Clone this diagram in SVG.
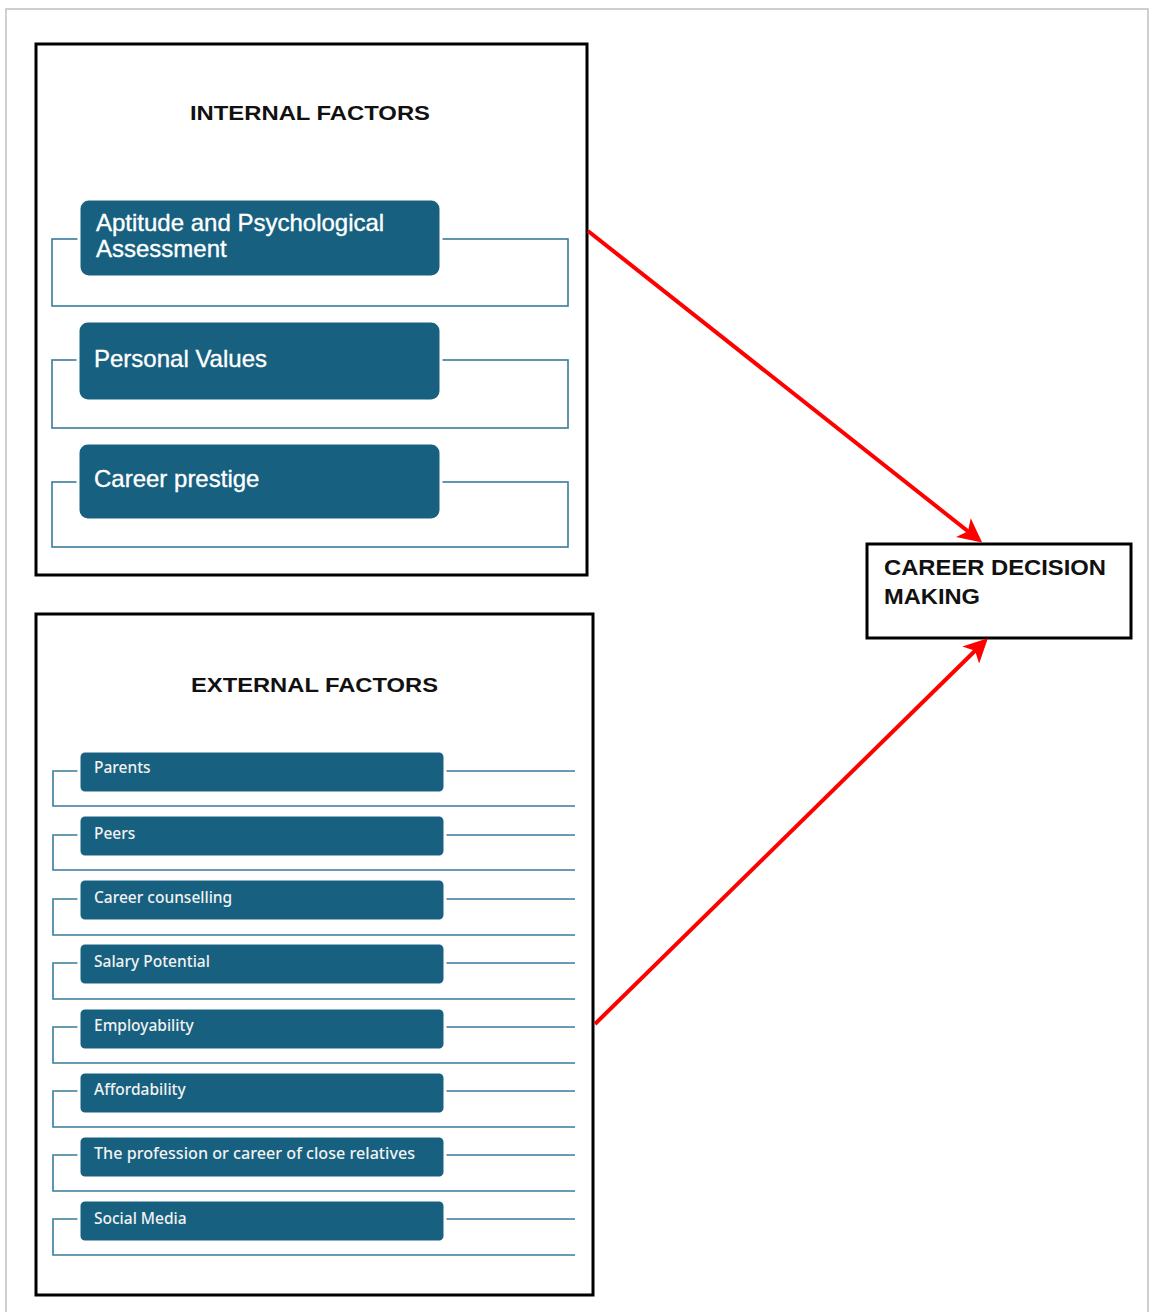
<svg xmlns="http://www.w3.org/2000/svg" width="1149" height="1312" viewBox="0 0 1149 1312">
<defs>
<style>
.frame{fill:none;stroke:#000;stroke-width:3}
.brk{fill:none;stroke:#3a7a9c;stroke-width:1.6}
.box{fill:#17607f;stroke:#fff;stroke-width:3}
.big{font-family:"Liberation Sans",Arial,sans-serif;font-size:24px;fill:#fff;stroke:#fff;stroke-width:0.35}
.sm{font-family:"Noto Sans","Open Sans",sans-serif;font-size:15.5px;font-weight:500;fill:#f2f2f2}
.hdr{font-family:"Liberation Sans",Arial,sans-serif;font-size:21px;font-weight:bold;fill:#111}
.arr{stroke:#ff0000;stroke-width:4;fill:none}
</style>
<marker id="ah" markerWidth="6" markerHeight="6" refX="5" refY="3" orient="auto" markerUnits="strokeWidth">
<path d="M0,0 L6,3 L0,6 L1.5,3 Z" fill="#ff0000"/>
</marker>
</defs>
<rect x="0" y="0" width="1149" height="1312" fill="#fff"/>
<path d="M6,1312 V9 H1148 V1312" fill="none" stroke="#c0c0c0" stroke-width="1.5"/>

<g id="internal">
<rect class="frame" x="36" y="44" width="551" height="531"/>
<text class="hdr" x="190" y="120" textLength="240" lengthAdjust="spacingAndGlyphs">INTERNAL FACTORS</text>
</g>
<g id="item-aptitude">
<rect class="brk" x="52" y="239" width="516" height="67"/>
<rect class="box" x="79" y="199" width="362" height="78" rx="10"/>
<text class="big" x="96" y="231">Aptitude and Psychological</text>
<text class="big" x="96" y="257">Assessment</text>
</g>
<g id="item-values">
<rect class="brk" x="52" y="360" width="516" height="68"/>
<rect class="box" x="78" y="321" width="363" height="80" rx="10"/>
<text class="big" x="94" y="367">Personal Values</text>
</g>
<g id="item-prestige">
<rect class="brk" x="52" y="482" width="516" height="65"/>
<rect class="box" x="78" y="443" width="363" height="77" rx="10"/>
<text class="big" x="94" y="487">Career prestige</text>
</g>

<g id="external">
<rect class="frame" x="36" y="614" width="557" height="681"/>
<text class="hdr" x="191" y="692" textLength="247" lengthAdjust="spacingAndGlyphs">EXTERNAL FACTORS</text>
</g>
<g id="ext-parents">
<path class="brk" d="M575,771 H53 V806 H575"/>
<rect class="box" x="79" y="751" width="366" height="42" rx="6"/>
<text class="sm" x="94" y="773">Parents</text>
</g>
<g id="ext-peers">
<path class="brk" d="M575,835 H53 V870 H575"/>
<rect class="box" x="79" y="815" width="366" height="42" rx="6"/>
<text class="sm" x="94" y="839">Peers</text>
</g>
<g id="ext-counselling">
<path class="brk" d="M575,899 H53 V935 H575"/>
<rect class="box" x="79" y="879" width="366" height="42" rx="6"/>
<text class="sm" x="94" y="903">Career counselling</text>
</g>
<g id="ext-salary">
<path class="brk" d="M575,963 H53 V999 H575"/>
<rect class="box" x="79" y="943" width="366" height="42" rx="6"/>
<text class="sm" x="94" y="967">Salary Potential</text>
</g>
<g id="ext-employability">
<path class="brk" d="M575,1027 H53 V1063 H575"/>
<rect class="box" x="79" y="1008" width="366" height="42" rx="6"/>
<text class="sm" x="94" y="1031">Employability</text>
</g>
<g id="ext-affordability">
<path class="brk" d="M575,1091 H53 V1127 H575"/>
<rect class="box" x="79" y="1072" width="366" height="42" rx="6"/>
<text class="sm" x="94" y="1095">Affordability</text>
</g>
<g id="ext-relatives">
<path class="brk" d="M575,1155 H53 V1191 H575"/>
<rect class="box" x="79" y="1136" width="366" height="42" rx="6"/>
<text class="sm" x="94" y="1159" textLength="321" lengthAdjust="spacingAndGlyphs">The profession or career of close relatives</text>
</g>
<g id="ext-social">
<path class="brk" d="M575,1219 H53 V1255 H575"/>
<rect class="box" x="79" y="1200" width="366" height="42" rx="6"/>
<text class="sm" x="94" y="1224">Social Media</text>
</g>

<g id="career-decision">
<rect class="frame" x="867" y="544" width="264" height="94"/>
<text class="hdr" x="884" y="575" style="font-size:22px" textLength="222" lengthAdjust="spacingAndGlyphs">CAREER DECISION</text>
<text class="hdr" x="884" y="604" style="font-size:22px" textLength="96" lengthAdjust="spacingAndGlyphs">MAKING</text>
</g>

<g id="connectors">
<line class="arr" x1="588" y1="231" x2="979" y2="540" marker-end="url(#ah)"/>
<line class="arr" x1="595" y1="1024" x2="985" y2="641" marker-end="url(#ah)"/>
</g>
</svg>
